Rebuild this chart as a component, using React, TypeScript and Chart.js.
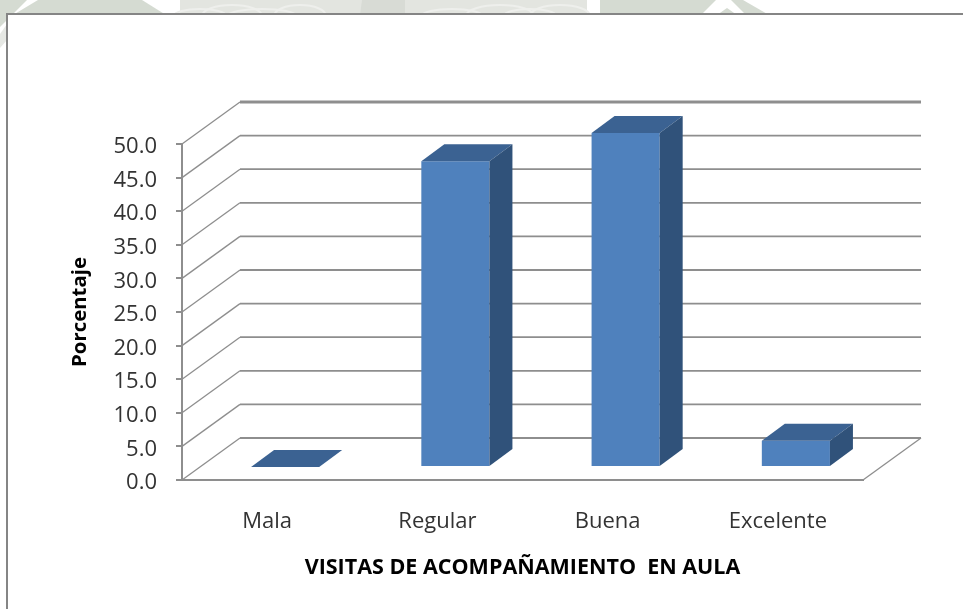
import React, { useEffect, useRef } from "react";
import { Chart, registerables } from "chart.js";

Chart.register(...registerables);

const categories = ["Mala", "Regular", "Buena", "Excelente"];
const percentages = [0.0, 45.5, 49.7, 3.9];
const yTitle = "Porcentaje";
const xTitle = "VISITAS DE ACOMPAÑAMIENTO  EN AULA";

const FONT = '"Open Sans", sans-serif';
const GRID = "#8e8e8e";
const BACK = { x: 58, y: -42 };
const SHIFT = { x: 18, y: -13 };
const DEPTH = { x: 23, y: -17 };

function poly(ctx: CanvasRenderingContext2D, pts: number[][], fill: string) {
  ctx.beginPath();
  pts.forEach((p, i) => (i ? ctx.lineTo(p[0], p[1]) : ctx.moveTo(p[0], p[1])));
  ctx.closePath();
  ctx.fillStyle = fill;
  ctx.fill();
}

const backdrop = {
  id: "backdrop",
  beforeDraw(chart: any) {
    const { ctx, width, height } = chart;
    ctx.save();
    ctx.fillStyle = "#ffffff";
    ctx.fillRect(0, 0, width, height);
    const green = "#d5dbd2";
    const pale = "#e3e5e0";
    poly(ctx, [[0, 0], [27, 0], [0, 27]], green);
    poly(ctx, [[0, 34], [7, 24], [7, 40], [0, 48]], "#e6e8e4");
    poly(ctx, [[13, 15], [38, 0], [142, 0], [166, 15]], green);
    poly(ctx, [[180, 15], [180, 0], [587, 0], [587, 15]], pale);
    poly(ctx, [[360, 15], [362, 0], [405, 0], [405, 15]], "#d8dbd5");
    ctx.strokeStyle = "#eeefec";
    ctx.lineWidth = 2;
    [200, 232, 262, 300, 452, 500, 530, 560].forEach((x, i) => {
      ctx.beginPath();
      ctx.ellipse(x, 16, 26 + (i % 3) * 4, 7 + (i % 2) * 4, 0, Math.PI, 2 * Math.PI);
      ctx.stroke();
    });
    poly(ctx, [[600, 15], [600, 0], [716, 0], [701, 15]], green);
    poly(ctx, [[717, 15], [727, 8], [737, 15]], green);
    poly(ctx, [[731, 0], [743, 0], [769, 15], [746, 15]], green);
    ctx.fillStyle = "#ffffff";
    ctx.fillRect(7, 14, width, height);
    ctx.strokeStyle = "#858585";
    ctx.lineWidth = 2;
    ctx.beginPath();
    ctx.moveTo(7, height);
    ctx.lineTo(7, 14);
    ctx.lineTo(width, 14);
    ctx.stroke();
    ctx.restore();
  },
};

const walls = {
  id: "walls",
  beforeDatasetsDraw(chart: any) {
    const { ctx, scales, chartArea } = chart;
    const y = scales.y;
    ctx.save();
    ctx.strokeStyle = GRID;
    y.ticks.forEach((t: any, i: number) => {
      const py = y.getPixelForValue(t.value);
      ctx.lineWidth = 1.3;
      ctx.beginPath();
      ctx.moveTo(chartArea.left, py);
      ctx.lineTo(chartArea.left + BACK.x, py + BACK.y);
      ctx.stroke();
      ctx.lineWidth = i === y.ticks.length - 1 ? 3 : 1.8;
      ctx.beginPath();
      ctx.moveTo(chartArea.left + BACK.x, py + BACK.y);
      ctx.lineTo(chartArea.right + BACK.x, py + BACK.y);
      ctx.stroke();
      if (t.value === 0) {
        ctx.lineWidth = 1.3;
        ctx.beginPath();
        ctx.moveTo(chartArea.right + BACK.x, py + BACK.y);
        ctx.lineTo(chartArea.right, py);
        ctx.stroke();
      }
    });
    ctx.restore();
    // The bars stand inside the floor, so they are drawn displaced from the front plane.
    ctx.save();
    ctx.translate(SHIFT.x, SHIFT.y);
  },
  afterDatasetsDraw(chart: any) {
    const { ctx } = chart;
    chart.getDatasetMeta(0).data.forEach((bar: any) => {
      const l = bar.x - bar.width / 2;
      const r = bar.x + bar.width / 2;
      const t = bar.y;
      const b = bar.base;
      poly(ctx, [[l, t], [l + DEPTH.x, t + DEPTH.y], [r + DEPTH.x, t + DEPTH.y], [r, t]], "#3b6292");
      if (b - t > 0.5) {
        poly(ctx, [[r, t], [r + DEPTH.x, t + DEPTH.y], [r + DEPTH.x, b + DEPTH.y], [r, b]], "#30527a");
      }
    });
    ctx.restore();
  },
};

export default function App() {
  const ref = useRef<HTMLCanvasElement>(null);
  useEffect(() => {
    const chart = new Chart(ref.current!, {
      type: "bar",
      data: {
        labels: categories,
        datasets: [
          {
            label: yTitle,
            data: percentages,
            backgroundColor: "#4f81bd",
            borderWidth: 0,
            barPercentage: 0.4,
            categoryPercentage: 1,
          },
        ],
      },
      plugins: [backdrop, walls],
      options: {
        responsive: false,
        animation: false,
        layout: { padding: { left: 68, right: 100, top: 144, bottom: 28 } },
        plugins: { legend: { display: false }, tooltip: { enabled: false }, title: { display: false } },
        scales: {
          x: {
            afterFit(s: any) {
              s.height = 101;
            },
            grid: { display: false },
            border: { color: GRID, width: 2 },
            ticks: {
              color: "#333333",
              font: { family: FONT, size: 22 },
              padding: 21,
              maxRotation: 0,
              autoSkip: false,
            },
            title: {
              display: true,
              text: xTitle,
              color: "#000000",
              font: { family: FONT, size: 21.5, weight: "bold" },
              padding: 0,
            },
          },
          y: {
            min: 0,
            max: 50,
            afterFit(s: any) {
              s.width = 114;
            },
            grid: { drawOnChartArea: false, color: GRID, tickLength: 6, lineWidth: 2 },
            border: { color: GRID, width: 2 },
            ticks: {
              stepSize: 5,
              color: "#333333",
              font: { family: FONT, size: 22 },
              padding: 19,
              labelOffset: 3,
              callback: (v: any) => Number(v).toFixed(1),
            },
            title: {
              display: true,
              text: yTitle,
              color: "#000000",
              font: { family: FONT, size: 20.4, weight: "bold" },
              padding: 0,
            },
          },
        },
      },
    } as any);
    return () => chart.destroy();
  }, []);
  return (
    <div style={{ position: "fixed", inset: 0, overflow: "hidden", background: "#fff" }}>
      <canvas ref={ref} width={963} height={609} style={{ display: "block" }} />
    </div>
  );
}
